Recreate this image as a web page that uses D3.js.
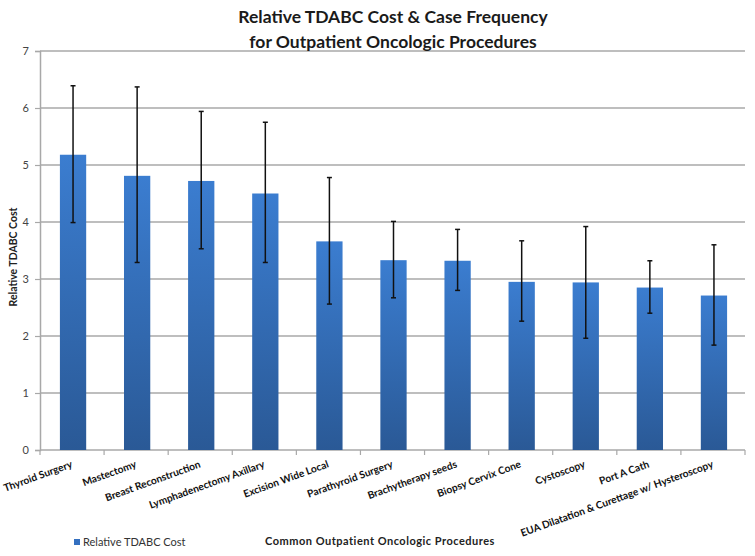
<!DOCTYPE html>
<html>
<head>
<meta charset="utf-8">
<script src="https://cdn.jsdelivr.net/npm/d3@7"></script>
<style>
  html, body { margin: 0; padding: 0; background: #fff; }
  svg { display: block; font-family: Lato, "Open Sans", sans-serif; }
</style>
</head>
<body>
<svg id="chart" width="755" height="556"></svg>
<script>
const categories = ["Thyroid Surgery", "Mastectomy", "Breast Reconstruction", "Lymphadenectomy Axillary",
  "Excision Wide Local", "Parathyroid Surgery", "Brachytherapy seeds", "Biopsy Cervix Cone",
  "Cystoscopy", "Port A Cath", "EUA Dilatation & Curettage w/ Hysteroscopy"];
const costValues = [5.18, 4.81, 4.72, 4.50, 3.66, 3.33, 3.32, 2.95, 2.94, 2.85, 2.71];
const errorUpper = [6.39, 6.37, 5.94, 5.75, 4.78, 4.01, 3.87, 3.67, 3.92, 3.32, 3.60];
const errorLower = [3.99, 3.29, 3.53, 3.29, 2.56, 2.67, 2.80, 2.26, 1.96, 2.40, 1.84];
const yTicks = [0, 1, 2, 3, 4, 5, 6, 7];
const titleLines = ["Relative TDABC Cost & Case Frequency", "for Outpatient Oncologic Procedures"];
const seriesName = "Relative TDABC Cost";
const xTitle = "Common Outpatient Oncologic Procedures";
const yTitle = "Relative TDABC Cost";

(function () {
const svg = d3.select("#chart");
const mLeft = 40, mRight = 745, mTop = 51, mBottom = 450;

const x = d3.scaleBand().domain(categories).range([mLeft, mRight]).padding(0);
const y = d3.scaleLinear().domain([0, 7]).range([mBottom, mTop]);

const defs = svg.append("defs");
const grad = defs.append("linearGradient").attr("id", "barGrad")
  .attr("x1", 0).attr("y1", 0).attr("x2", 0).attr("y2", 1);
grad.append("stop").attr("offset", "0%").attr("stop-color", "#3b7dd0");
grad.append("stop").attr("offset", "100%").attr("stop-color", "#2a5996");

// gridlines
svg.append("g").selectAll("line").data(yTicks.filter(d => d > 0)).join("line")
  .attr("x1", mLeft).attr("x2", mRight)
  .attr("y1", d => y(d)).attr("y2", d => y(d))
  .attr("stroke", "#a8a8a8").attr("stroke-width", 1.5);

// y axis
const yAxis = svg.append("g").attr("transform", `translate(${mLeft},0)`)
  .call(d3.axisLeft(y).tickValues(yTicks).tickSize(5).tickPadding(6).tickFormat(d3.format("d")));
yAxis.select(".domain").attr("stroke", "#a8a8a8").attr("stroke-width", 1.5);
yAxis.selectAll(".tick line").attr("stroke", "#a8a8a8").attr("stroke-width", 1.2);
yAxis.selectAll(".tick text").attr("fill", "#444").attr("font-size", 11).attr("font-family", "Lato, sans-serif");

// x axis
const xAxis = svg.append("g").attr("transform", `translate(0,${mBottom})`);
xAxis.append("line").attr("x1", mLeft).attr("x2", mRight).attr("y1", 0).attr("y2", 0)
  .attr("stroke", "#a8a8a8").attr("stroke-width", 1.5);
const boundaries = categories.map(c => x(c)).concat([mRight]);
xAxis.selectAll("line.tk").data(boundaries).join("line").attr("class", "tk")
  .attr("x1", d => d).attr("x2", d => d).attr("y1", 0).attr("y2", 5)
  .attr("stroke", "#a8a8a8").attr("stroke-width", 1.2);

// bars
const barW = x.bandwidth() * 0.41;
svg.append("g").selectAll("rect").data(categories).join("rect")
  .attr("x", d => x(d) + x.bandwidth() / 2 - barW / 2 + 1)
  .attr("width", barW)
  .attr("y", (d, i) => y(costValues[i]))
  .attr("height", (d, i) => y(0) - y(costValues[i]))
  .attr("fill", "url(#barGrad)");

// error bars
const eb = svg.append("g").attr("stroke", "#111").attr("stroke-width", 1.5);
categories.forEach((c, i) => {
  const cx = x(c) + x.bandwidth() / 2 + 1;
  eb.append("line").attr("x1", cx).attr("x2", cx).attr("y1", y(errorUpper[i])).attr("y2", y(errorLower[i]));
  eb.append("line").attr("x1", cx - 2.5).attr("x2", cx + 2.5).attr("y1", y(errorUpper[i])).attr("y2", y(errorUpper[i]));
  eb.append("line").attr("x1", cx - 2.5).attr("x2", cx + 2.5).attr("y1", y(errorLower[i])).attr("y2", y(errorLower[i]));
});

// x labels
svg.append("g").selectAll("text").data(categories).join("text")
  .attr("transform", d => `translate(${x(d) + x.bandwidth() / 2 + 1},${467}) rotate(-20)`)
  .attr("text-anchor", "end")
  .attr("font-size", 10.2).attr("font-weight", "bold").attr("fill", "#111")
  .text(d => d);

// title
svg.append("g").selectAll("text").data(titleLines).join("text")
  .attr("x", 393).attr("y", (d, i) => 23 + i * 25)
  .attr("text-anchor", "middle").attr("font-size", 17.5).attr("font-weight", "bold").attr("fill", "#1a1a1a")
  .text(d => d);

// y title
svg.append("text").attr("transform", `translate(17,257) rotate(-90)`)
  .attr("text-anchor", "middle").attr("font-size", 10.5).attr("font-weight", "bold").attr("fill", "#222")
  .text(yTitle);

// x title
svg.append("text").attr("x", 380).attr("y", 545).attr("text-anchor", "middle")
  .attr("font-size", 11).attr("font-weight", "bold").attr("fill", "#222").attr("letter-spacing", 0.5)
  .text(xTitle);

// legend
svg.append("rect").attr("x", 74).attr("y", 539).attr("width", 6).attr("height", 6).attr("fill", "#3470c0");
svg.append("text").attr("x", 83).attr("y", 546).attr("font-size", 11).attr("fill", "#333").text(seriesName);
})();
</script>
</body>
</html>
